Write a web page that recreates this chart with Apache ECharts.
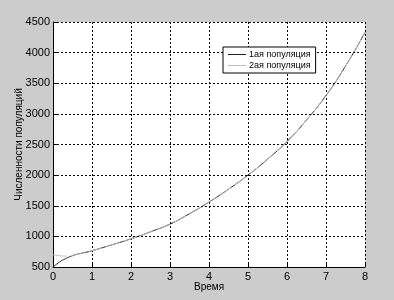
<!DOCTYPE html>
<html><head><meta charset="utf-8">
<script src="https://cdn.jsdelivr.net/npm/echarts@6/dist/echarts.min.js"></script>
<style>html,body{margin:0;padding:0;background:#cccccc;}#c{width:394px;height:300px;}</style>
</head><body><div id="c"></div>
<script>
const times1 = [0,0.1,0.2,0.3,0.4,0.5,0.6,0.7,0.8,0.9,1,1.5,2,2.5,3,3.5,4,4.5,5,5.5,6,6.5,7,7.5,8];
const pop1 = [500,550,595,630,660,685,705,720,735,748,765,860,960,1075,1200,1370,1560,1770,2000,2260,2550,2900,3300,3780,4330];
const pop2 = [700,690,682,678,680,690,703,718,733,748,765,860,960,1075,1200,1370,1560,1770,2000,2260,2550,2900,3300,3780,4330];
const names = ['1ая популяция','2ая популяция'];
const xTicks = [0,1,2,3,4,5,6,7,8];
const yTicks = [500,1000,1500,2000,2500,3000,3500,4000,4500];

const ch = echarts.init(document.getElementById('c'));
const font = 'Liberation Sans, Arial, sans-serif';
ch.setOption({
  backgroundColor:'#cccccc',
  animation:false,
  grid:{left:53,right:29,top:22,bottom:33,containLabel:false,outerBoundsMode:'none',show:true,backgroundColor:'#ffffff',borderWidth:0},
  legend:{
    data:names, left:223, top:47, orient:'vertical',
    backgroundColor:'#ffffff', borderColor:'#000000', borderWidth:1, borderRadius:0,
    padding:[3,5,3,5], itemGap:2, itemWidth:18, itemHeight:1, icon:'rect',
    textStyle:{fontFamily:font,fontSize:9,color:'#000',padding:[0,0,0,-2]}
  },
  xAxis:{type:'value',min:xTicks[0],max:xTicks[xTicks.length-1],interval:1,
    name:'Время',nameLocation:'middle',nameGap:15,nameMoveOverlap:false,nameTextStyle:{fontFamily:font,fontSize:10,color:'#000'},
    axisLine:{lineStyle:{color:'#000',width:1}},
    axisTick:{inside:true,length:4,lineStyle:{color:'#000'}},
    axisLabel:{fontFamily:font,fontSize:11,color:'#000',margin:4,formatter:v=>String(v)},
    splitLine:{show:true,lineStyle:{color:'#000',type:[2,2],width:1}}},
  yAxis:{type:'value',min:yTicks[0],max:yTicks[yTicks.length-1],interval:500,
    name:'Численности популяций',nameLocation:'middle',nameGap:29,nameRotate:90,nameMoveOverlap:false,
    nameTextStyle:{fontFamily:font,fontSize:10,color:'#000'},
    axisLine:{show:true,lineStyle:{color:'#000',width:1}},
    axisTick:{show:true,inside:true,length:4,lineStyle:{color:'#000'}},
    axisLabel:{fontFamily:font,fontSize:11,color:'#000',margin:3,formatter:v=>String(v)},
    splitLine:{show:true,lineStyle:{color:'#000',type:[2,2],width:1}}},
  series:[
    {name:names[0],type:'line',showSymbol:false,symbol:'none',smooth:true,
     data:times1.map((t,i)=>[t,pop1[i]]),lineStyle:{color:'#222222',width:1},itemStyle:{color:'#222222'},z:2},
    {name:names[1],type:'line',showSymbol:false,symbol:'none',smooth:true,
     data:times1.map((t,i)=>[t,pop2[i]]),lineStyle:{color:'#bdbdbd',width:1,type:[14,4]},itemStyle:{color:'#bdbdbd'},z:3}
  ]
});
</script></body></html>
